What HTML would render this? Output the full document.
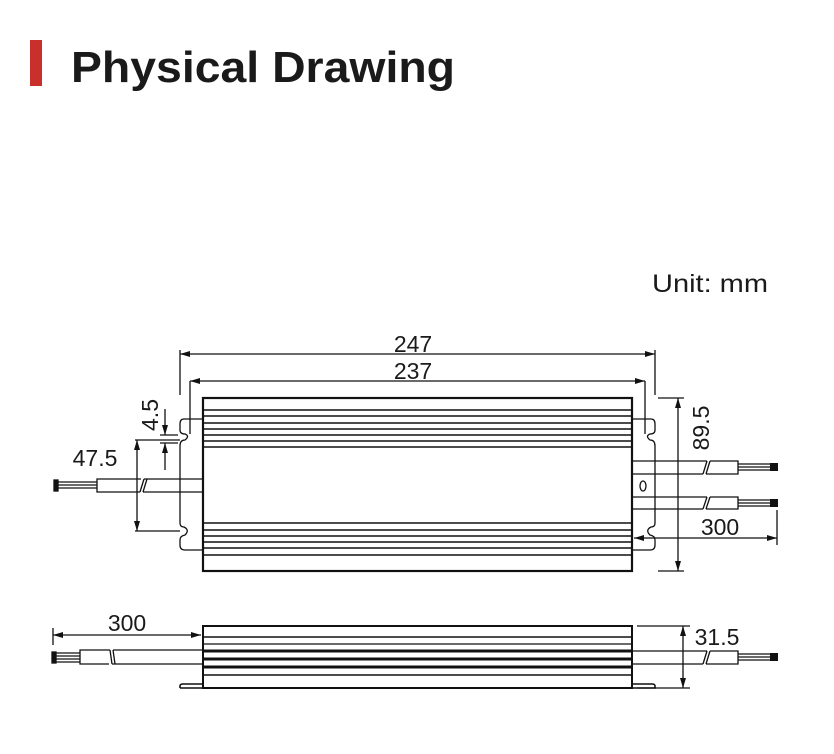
<!DOCTYPE html>
<html><head><meta charset="utf-8"><style>
html,body{margin:0;padding:0;background:#fff;}
svg{display:block;font-family:"Liberation Sans",sans-serif;}
</style></head><body>
<svg width="834" height="754" viewBox="0 0 834 754" xmlns="http://www.w3.org/2000/svg">
<defs>
<marker id="a" viewBox="0 0 10 6" refX="10" refY="3" markerWidth="10" markerHeight="6" orient="auto-start-reverse" markerUnits="userSpaceOnUse"><path d="M0,0 L10,3 L0,6 z" fill="#111"/></marker>
</defs>
<rect x="30" y="40" width="12" height="46" fill="#c9302c"/>
<text x="71" y="82" font-size="44" font-weight="bold" fill="#1a1a1a" textLength="384" lengthAdjust="spacingAndGlyphs">Physical Drawing</text>
<text x="652" y="292" font-size="25" fill="#1a1a1a" textLength="116" lengthAdjust="spacingAndGlyphs">Unit: mm</text>

<g stroke="#111" fill="none" stroke-width="1.3">
<rect x="203" y="398" width="429" height="173" stroke-width="2.2"/>
<g stroke-width="1.6">
<line x1="203" y1="410" x2="632" y2="410"/><line x1="203" y1="416" x2="632" y2="416"/>
<line x1="203" y1="423" x2="632" y2="423"/><line x1="203" y1="429" x2="632" y2="429"/>
<line x1="203" y1="435" x2="632" y2="435"/><line x1="203" y1="441" x2="632" y2="441"/>
<line x1="203" y1="447" x2="632" y2="447"/>
<line x1="203" y1="523" x2="632" y2="523"/><line x1="203" y1="530" x2="632" y2="530"/>
<line x1="203" y1="536" x2="632" y2="536"/><line x1="203" y1="542" x2="632" y2="542"/>
<line x1="203" y1="548" x2="632" y2="548"/><line x1="203" y1="555" x2="632" y2="555"/>
</g>
<path d="M203,419 H184 Q180,419 180,424 V430 Q180,434 185,434 Q190,436 185,440 Q180,440 180,446 V523 Q180,527 184,527 Q190,530 185,535 Q180,536 180,540 V545 Q180,550 185,550 H203"/>
<path d="M190,381 V434"/>
<path d="M632,419 H651 Q655,419 655,424 V430 Q655,434 650,434 Q645,436 650,440 Q655,440 655,446 V523 Q655,527 651,527 Q645,530 650,535 Q655,536 655,540 V545 Q655,550 650,550 H632"/>
<path d="M645,381 V434"/>
<ellipse cx="643" cy="486" rx="3" ry="5"/>
<line x1="180" y1="350" x2="180" y2="395"/><line x1="655" y1="350" x2="655" y2="395"/>
<line x1="180" y1="354" x2="655" y2="354" marker-start="url(#a)" marker-end="url(#a)"/>
<line x1="190" y1="381" x2="645" y2="381" marker-start="url(#a)" marker-end="url(#a)"/>
<path d="M203,479 H144 M141,479 H97 V492 H140 M143,492 H203"/>
<path d="M144,479 L140,492 M147,479 L143,492"/>
<g stroke-width="1.2"><line x1="58" y1="482" x2="97" y2="482"/><line x1="58" y1="485" x2="97" y2="485"/><line x1="58" y1="488" x2="97" y2="488"/></g>
<rect x="54" y="480" width="4" height="11" fill="#111"/>
<line x1="135" y1="440" x2="180" y2="440"/><line x1="135" y1="531" x2="180" y2="531"/>
<line x1="137" y1="440" x2="137" y2="531" marker-start="url(#a)" marker-end="url(#a)"/>
<line x1="160" y1="435" x2="178" y2="435"/><line x1="160" y1="443" x2="178" y2="443"/>
<line x1="165" y1="409" x2="165" y2="435" marker-end="url(#a)"/>
<line x1="165" y1="470" x2="165" y2="443" marker-end="url(#a)"/>
<path d="M632,461 H707 M710,461 H738 V474 H706 M703,474 H632"/>
<path d="M707,461 L703,474 M710,461 L706,474"/>
<path d="M738,464 H770 M738,467 H770 M738,470 H770"/>
<path d="M632,497 H707 M710,497 H738 V509 H706 M703,509 H632"/>
<path d="M707,497 L703,509 M710,497 L706,509"/>
<path d="M738,500 H770 M738,503 H770 M738,506 H770"/>
<rect x="770" y="463" width="8" height="8" fill="#111" stroke="none"/>
<rect x="770" y="499" width="8" height="8" fill="#111" stroke="none"/>
<line x1="658" y1="398" x2="684" y2="398"/><line x1="658" y1="571" x2="684" y2="571"/>
<line x1="678" y1="398" x2="678" y2="571" marker-start="url(#a)" marker-end="url(#a)"/>
<line x1="777" y1="510" x2="777" y2="545"/>
<line x1="634" y1="538" x2="777" y2="538" marker-start="url(#a)" marker-end="url(#a)"/>

<rect x="203" y="626" width="429" height="62" stroke-width="2"/>
<path d="M180,688 V686 Q180,684 183,684 H203 M632,684 H652 Q655,684 655,686 V688 H180" stroke-width="1.6"/>
<line x1="203" y1="637" x2="632" y2="637" stroke-width="1.6"/>
<line x1="203" y1="644" x2="632" y2="644" stroke-width="1.2"/>
<line x1="203" y1="651" x2="632" y2="651" stroke-width="3"/>
<line x1="203" y1="659" x2="632" y2="659" stroke-width="3"/>
<line x1="203" y1="667" x2="632" y2="667" stroke-width="3"/>
<line x1="203" y1="675" x2="632" y2="675" stroke-width="1.6"/>
<path d="M203,650 H113 M110,650 H80 V664 H109 M112,664 H203"/>
<path d="M110,650 L112,664 M113,650 L115,664"/>
<path d="M56,653 H80 M56,656 H80 M56,659 H80 M56,662 H80"/>
<rect x="52" y="652" width="4" height="11" fill="#111"/>
<path d="M632,651 H707 M710,651 H738 V664 H706 M703,664 H632"/>
<path d="M707,651 L703,664 M710,651 L706,664"/>
<path d="M738,654 H770 M738,657 H770 M738,660 H770"/>
<rect x="770" y="653" width="8" height="8" fill="#111" stroke="none"/>
<line x1="53" y1="628" x2="53" y2="645"/>
<line x1="53" y1="635" x2="201" y2="635" marker-start="url(#a)" marker-end="url(#a)"/>
<line x1="637" y1="626" x2="690" y2="626"/><line x1="637" y1="688" x2="690" y2="688"/>
<line x1="683" y1="626" x2="683" y2="688" marker-start="url(#a)" marker-end="url(#a)"/>
</g>

<g font-size="23" fill="#1a1a1a">
<text x="413" y="352" text-anchor="middle">247</text>
<text x="413" y="379" text-anchor="middle">237</text>
<text x="95" y="466" text-anchor="middle">47.5</text>
<text transform="translate(158,415) rotate(-90)" text-anchor="middle">4.5</text>
<text transform="translate(709,428) rotate(-90)" text-anchor="middle">89.5</text>
<text x="720" y="535" text-anchor="middle">300</text>
<text x="127" y="631" text-anchor="middle">300</text>
<text x="717" y="645" text-anchor="middle">31.5</text>
</g>
</svg>
</body></html>
